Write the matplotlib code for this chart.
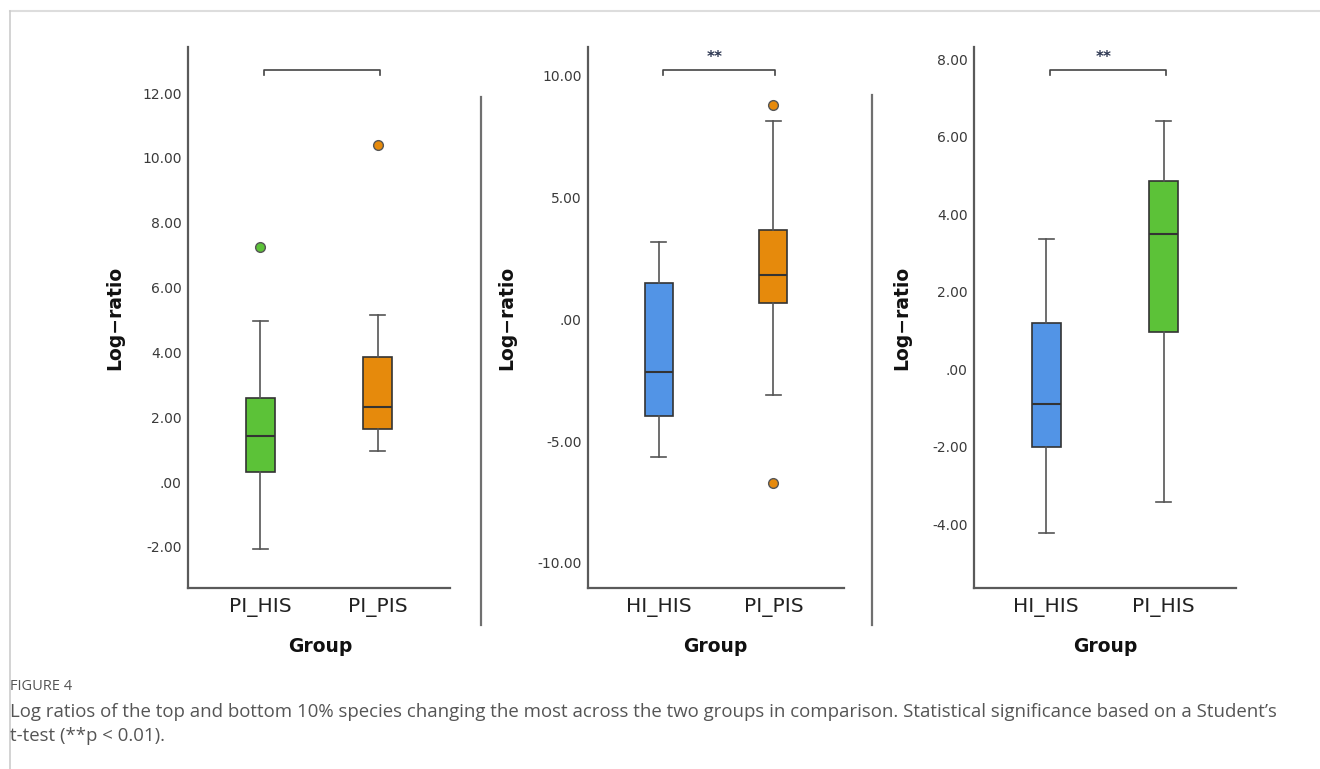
import matplotlib
matplotlib.use("Agg")
import matplotlib.pyplot as plt
from matplotlib.lines import Line2D

W, H = 1320, 769

# ---- data ----
p1_groups = ["PI_HIS", "PI_PIS"]
p1_whislo = [-2.08, 0.95]
p1_q1 = [0.31, 1.63]
p1_med = [1.42, 2.32]
p1_q3 = [2.60, 3.85]
p1_whishi = [4.97, 5.14]
p1_fliers = [[7.26], [10.39]]

p2_groups = ["HI_HIS", "PI_PIS"]
p2_whislo = [-5.65, -3.09]
p2_q1 = [-3.97, 0.67]
p2_med = [-2.15, 1.82]
p2_q3 = [1.49, 3.69]
p2_whishi = [3.19, 8.14]
p2_fliers = [[], [8.79, -6.74]]

p3_groups = ["HI_HIS", "PI_HIS"]
p3_whislo = [-4.22, -3.43]
p3_q1 = [-2.00, 0.95]
p3_med = [-0.89, 3.50]
p3_q3 = [1.19, 4.87]
p3_whishi = [3.35, 6.42]
p3_fliers = [[], []]

p1_ticks = [-2, 0, 2, 4, 6, 8, 10, 12]
p2_ticks = [-10, -5, 0, 5, 10]
p3_ticks = [-4, -2, 0, 2, 4, 6, 8]

sig_labels = ["", "**", "**"]
bracket_y = [12.7, 10.26, 7.72]

GREEN = "#5CC238"
ORANGE = "#E68A0C"
BLUE = "#5294E6"
p1_colors = [GREEN, ORANGE]
p2_colors = [BLUE, ORANGE]
p3_colors = [BLUE, GREEN]

caption_title = "FIGURE 4"
caption_lines = [
    "Log ratios of the top and bottom 10% species changing the most across the two groups in comparison. Statistical significance based on a Student\u2019s",
    "t-test (**p < 0.01).",
]

fig = plt.figure(figsize=(W / 100, H / 100), dpi=100)
fig.patch.set_facecolor("white")


def fx(x):
    return x / W


def fy(y):
    return 1 - y / H


def fmt(v):
    if v == 0:
        return ".00"
    return f"{v:.2f}"


panels = [
    dict(box=(188, 450, 47, 588), ylim=(-3.27, 13.42), groups=p1_groups, lo=p1_whislo, q1=p1_q1,
         med=p1_med, q3=p1_q3, hi=p1_whishi, fl=p1_fliers, ticks=p1_ticks, colors=p1_colors,
         ylab_x=115, cx=320),
    dict(box=(588, 844, 47, 588), ylim=(-11.04, 11.19), groups=p2_groups, lo=p2_whislo, q1=p2_q1,
         med=p2_med, q3=p2_q3, hi=p2_whishi, fl=p2_fliers, ticks=p2_ticks, colors=p2_colors,
         ylab_x=507, cx=715),
    dict(box=(974, 1236, 47, 588), ylim=(-5.65, 8.32), groups=p3_groups, lo=p3_whislo, q1=p3_q1,
         med=p3_med, q3=p3_q3, hi=p3_whishi, fl=p3_fliers, ticks=p3_ticks, colors=p3_colors,
         ylab_x=902, cx=1105),
]

AX_COL = "#5a5a5a"
TXT = "#3a3a3a"

for i, p in enumerate(panels):
    l, r, t, b = p["box"]
    ax = fig.add_axes([fx(l), fy(b), fx(r) - fx(l), (b - t) / H])
    stats = []
    for k in range(len(p["groups"])):
        stats.append(dict(med=p["med"][k], q1=p["q1"][k], q3=p["q3"][k],
                          whislo=p["lo"][k], whishi=p["hi"][k], fliers=p["fl"][k]))
    bp = ax.bxp(stats, positions=[0, 1], widths=0.245, patch_artist=True,
                showfliers=True,
                boxprops=dict(edgecolor="#333333", linewidth=1.2),
                medianprops=dict(color="#333333", linewidth=1.5),
                whiskerprops=dict(color="#555555", linewidth=1.2),
                capprops=dict(color="#555555", linewidth=1.2),
                capwidths=0.125)
    for patch, c in zip(bp["boxes"], p["colors"]):
        patch.set_facecolor(c)
    for fl, c in zip(bp["fliers"], p["colors"]):
        fl.set(marker="o", markersize=7, markerfacecolor=c, markeredgecolor="#555555",
               markeredgewidth=1.0, linestyle="none")
    ax.set_xlim(-0.615, 1.615)
    ax.set_ylim(*p["ylim"])
    for s in ["top", "right"]:
        ax.spines[s].set_visible(False)
    for s in ["left", "bottom"]:
        ax.spines[s].set_color(AX_COL)
        ax.spines[s].set_linewidth(1.6)
    ax.set_yticks(p["ticks"])
    ax.set_yticklabels([fmt(v) for v in p["ticks"]], fontsize=10, color=TXT)
    ax.set_xticks([0, 1])
    ax.set_xticklabels(p["groups"], fontsize=14.5, color="#222222")
    ax.tick_params(axis="both", length=0)
    ax.tick_params(axis="y", pad=4.5)
    ax.tick_params(axis="x", pad=7)
    ax.set_facecolor("none")

    # significance bracket
    yb = bracket_y[i]
    span = p["ylim"][1] - p["ylim"][0]
    dy = span * 5 / (b - t)
    ax.plot([0.035, 0.035, 1.015, 1.015], [yb - dy, yb, yb, yb - dy], color="#444444",
            linewidth=1.2, clip_on=False)
    if sig_labels[i]:
        ax.text(0.49, yb + span * 5 / (b - t), sig_labels[i], ha="center", va="bottom",
                fontsize=11, fontweight="bold", color="#2b3550")

    fig.text(fx(p["ylab_x"]), fy(318), "Log\u2212ratio", rotation=90, ha="center", va="center",
             fontsize=13.5, fontweight="bold", color="#111111")
    fig.text(fx(p["cx"]), fy(647), "Group", ha="center", va="center",
             fontsize=13.5, fontweight="bold", color="#111111")

# separators between panels
for x, y0 in [(481, 97), (872, 95)]:
    fig.add_artist(Line2D([fx(x), fx(x)], [fy(y0), fy(625)], color="#707070", linewidth=1.6))

# outer frame
fig.add_artist(Line2D([fx(9.5), 1], [fy(10.5), fy(10.5)], color="#dddddd", linewidth=1.5))
fig.add_artist(Line2D([fx(9.5), fx(9.5)], [fy(10.5), 0], color="#cccccc", linewidth=1.2))

# caption
fig.text(fx(10), fy(686), caption_title, ha="left", va="center", fontsize=10.5,
         family="Open Sans", color="#555555")
fig.text(fx(10), fy(712), caption_lines[0], ha="left", va="center", fontsize=13.4,
         family="Open Sans", color="#555555")
fig.text(fx(10), fy(736), caption_lines[1], ha="left", va="center", fontsize=13.4,
         family="Open Sans", color="#555555")

fig.savefig("out.png", dpi=100, facecolor="white")
